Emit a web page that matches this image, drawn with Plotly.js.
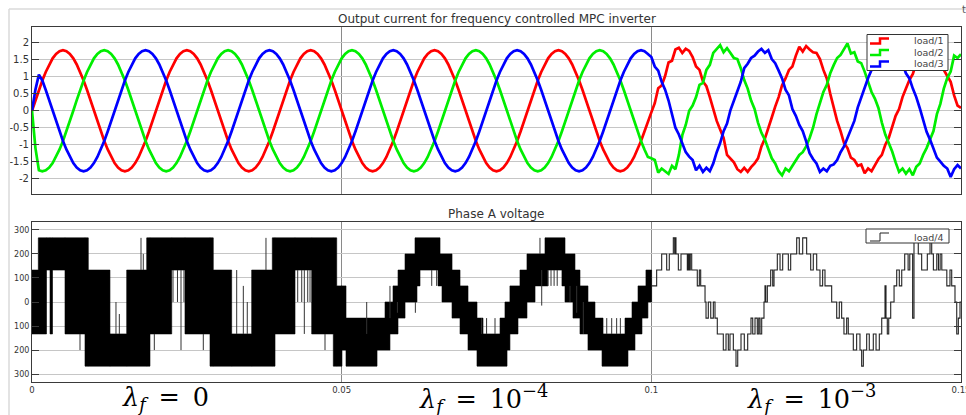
<!DOCTYPE html>
<html><head><meta charset="utf-8">
<script src="https://cdn.plot.ly/plotly-3.0.1.min.js"></script>
<style>html,body{margin:0;padding:0;background:#fff}#chart{width:966px;height:415px}</style>
</head><body><div id="chart"></div>
<script>
// ---------- DATA ----------
const currentStepSeconds = 1 / 1800;   // one sample every 10 electrical degrees at 50 Hz

const load1 = [
0,0.31,0.61,0.89,1.14,1.36,1.54,1.67,1.75,1.78,1.75,1.67,1.54,1.36,1.14,0.89,0.61,0.31,0,-0.31,-0.61,-0.89,-1.14,-1.36,-1.54,-1.67,-1.75,-1.78,-1.75,-1.67,-1.54,-1.36,-1.14,-0.89,-0.61,-0.31,
0,0.31,0.61,0.89,1.14,1.36,1.54,1.67,1.75,1.78,1.75,1.67,1.54,1.36,1.14,0.89,0.61,0.31,0,-0.31,-0.61,-0.89,-1.14,-1.36,-1.54,-1.67,-1.75,-1.78,-1.75,-1.67,-1.54,-1.36,-1.14,-0.89,-0.61,-0.31,
0,0.31,0.61,0.89,1.14,1.36,1.54,1.67,1.75,1.78,1.75,1.67,1.54,1.36,1.14,0.89,0.61,0.31,0,-0.31,-0.61,-0.89,-1.14,-1.36,-1.54,-1.67,-1.75,-1.78,-1.75,-1.67,-1.54,-1.36,-1.14,-0.89,-0.61,-0.31,
0,0.31,0.61,0.89,1.14,1.36,1.54,1.67,1.75,1.78,1.75,1.67,1.54,1.36,1.14,0.89,0.61,0.31,0,-0.31,-0.61,-0.89,-1.14,-1.36,-1.54,-1.67,-1.75,-1.78,-1.75,-1.67,-1.54,-1.36,-1.14,-0.89,-0.61,-0.31,
0,0.31,0.61,0.89,1.14,1.36,1.54,1.67,1.75,1.78,1.75,1.67,1.54,1.36,1.14,0.89,0.61,0.31,0,-0.31,-0.61,-0.89,-1.14,-1.36,-1.54,-1.67,-1.75,-1.78,-1.75,-1.67,-1.54,-1.36,-1.14,-0.89,-0.61,-0.31,
-0.05,0.22,0.66,0.74,1.02,1.42,1.47,1.80,1.85,1.70,
1.82,1.76,1.58,1.30,1.20,0.86,0.72,0.40,0.05,-0.30,
-0.55,-0.80,-1.30,-1.40,-1.52,-1.72,-1.80,-1.68,-1.80,-1.66,
-1.55,-1.40,-1.05,-0.82,-0.48,-0.20,0.12,0.40,0.75,0.95,
1.20,1.30,1.62,1.88,1.74,1.90,1.80,1.72,1.70,1.52,
1.20,0.95,0.50,0.10,-0.30,-0.60,-0.95,-1.10,-1.38,-1.45,
-1.62,-1.58,-1.84,-1.70,-1.78,-1.60,-1.42,-1.30,-1.00,-0.80,
-0.45,-0.15,0.05,0.40,0.65,0.90,1.08,1.40,1.58,1.80,
1.72,1.86,1.70,1.62,1.45,1.20,1.02,0.85,0.45,0.15,0.08
];

const load2 = [
0,-1.10,-1.75,-1.78,-1.75,-1.67,-1.54,-1.36,-1.14,-0.89,-0.61,-0.31,0,0.31,0.61,0.89,1.14,1.36,1.54,1.67,1.75,1.78,1.75,1.67,1.54,1.36,1.14,0.89,0.61,0.31,0,-0.31,-0.61,-0.89,-1.14,-1.36,
-1.54,-1.67,-1.75,-1.78,-1.75,-1.67,-1.54,-1.36,-1.14,-0.89,-0.61,-0.31,0,0.31,0.61,0.89,1.14,1.36,1.54,1.67,1.75,1.78,1.75,1.67,1.54,1.36,1.14,0.89,0.61,0.31,0,-0.31,-0.61,-0.89,-1.14,-1.36,
-1.54,-1.67,-1.75,-1.78,-1.75,-1.67,-1.54,-1.36,-1.14,-0.89,-0.61,-0.31,0,0.31,0.61,0.89,1.14,1.36,1.54,1.67,1.75,1.78,1.75,1.67,1.54,1.36,1.14,0.89,0.61,0.31,0,-0.31,-0.61,-0.89,-1.14,-1.36,
-1.54,-1.67,-1.75,-1.78,-1.75,-1.67,-1.54,-1.36,-1.14,-0.89,-0.61,-0.31,0,0.31,0.61,0.89,1.14,1.36,1.54,1.67,1.75,1.78,1.75,1.67,1.54,1.36,1.14,0.89,0.61,0.31,0,-0.31,-0.61,-0.89,-1.14,-1.36,
-1.54,-1.67,-1.75,-1.78,-1.75,-1.67,-1.54,-1.36,-1.14,-0.89,-0.61,-0.31,0,0.31,0.61,0.89,1.14,1.36,1.54,1.67,1.75,1.78,1.75,1.67,1.54,1.36,1.14,0.89,0.61,0.31,0,-0.31,-0.61,-0.89,-1.14,-1.36,
-1.40,-1.45,-1.82,-1.70,-1.78,-1.86,-1.62,-1.72,-1.30,-0.72,
-0.42,0.00,0.15,0.40,0.76,0.82,1.20,1.35,1.70,1.80,
1.93,1.72,1.84,1.70,1.55,1.52,1.25,0.90,0.65,0.30,
0.05,-0.35,-0.65,-0.85,-1.12,-1.40,-1.55,-1.78,-1.90,-1.70,
-1.78,-1.62,-1.45,-1.30,-1.22,-1.05,-0.80,-0.50,-0.10,0.26,
0.55,0.76,1.10,1.34,1.55,1.64,1.80,1.98,1.68,1.72,
1.45,1.40,1.15,0.85,0.55,0.35,0.08,-0.35,-0.70,-0.95,
-1.20,-1.52,-1.80,-1.70,-1.85,-1.72,-1.90,-1.65,-1.55,-1.30,
-1.10,-0.85,-0.60,-0.10,0.20,0.65,0.96,1.15,1.62,1.55,1.66
];

const load3 = [
0,0.62,1.06,0.89,0.61,0.31,0,-0.31,-0.61,-0.89,-1.14,-1.36,-1.54,-1.67,-1.75,-1.78,-1.75,-1.67,-1.54,-1.36,-1.14,-0.89,-0.61,-0.31,0,0.31,0.61,0.89,1.14,1.36,1.54,1.67,1.75,1.78,1.75,1.67,
1.54,1.36,1.14,0.89,0.61,0.31,0,-0.31,-0.61,-0.89,-1.14,-1.36,-1.54,-1.67,-1.75,-1.78,-1.75,-1.67,-1.54,-1.36,-1.14,-0.89,-0.61,-0.31,0,0.31,0.61,0.89,1.14,1.36,1.54,1.67,1.75,1.78,1.75,1.67,
1.54,1.36,1.14,0.89,0.61,0.31,0,-0.31,-0.61,-0.89,-1.14,-1.36,-1.54,-1.67,-1.75,-1.78,-1.75,-1.67,-1.54,-1.36,-1.14,-0.89,-0.61,-0.31,0,0.31,0.61,0.89,1.14,1.36,1.54,1.67,1.75,1.78,1.75,1.67,
1.54,1.36,1.14,0.89,0.61,0.31,0,-0.31,-0.61,-0.89,-1.14,-1.36,-1.54,-1.67,-1.75,-1.78,-1.75,-1.67,-1.54,-1.36,-1.14,-0.89,-0.61,-0.31,0,0.31,0.61,0.89,1.14,1.36,1.54,1.67,1.75,1.78,1.75,1.67,
1.54,1.36,1.14,0.89,0.61,0.31,0,-0.31,-0.61,-0.89,-1.14,-1.36,-1.54,-1.67,-1.75,-1.78,-1.75,-1.67,-1.54,-1.36,-1.14,-0.89,-0.61,-0.31,0,0.31,0.61,0.89,1.14,1.36,1.54,1.67,1.75,1.78,1.75,1.67,
1.58,1.30,1.18,0.85,0.62,0.30,-0.15,-0.50,-0.70,-0.95,
-1.22,-1.35,-1.45,-1.75,-1.62,-1.80,-1.68,-1.78,-1.55,-1.22,
-0.95,-0.60,-0.38,0.02,0.30,0.55,0.85,1.25,1.38,1.55,
1.62,1.74,1.82,1.70,1.78,1.52,1.40,1.18,0.95,0.62,
0.45,0.05,-0.15,-0.42,-0.60,-0.90,-1.25,-1.42,-1.55,-1.80,
-1.70,-1.78,-1.62,-1.58,-1.45,-1.22,-1.05,-0.80,-0.55,-0.30,
0.10,0.40,0.67,0.96,1.20,1.45,1.58,1.75,1.70,1.82,
1.72,1.65,1.52,1.38,1.10,0.95,0.65,0.40,0.08,-0.30,
-0.62,-0.85,-1.10,-1.38,-1.50,-1.62,-1.70,-1.95,-1.72,-1.60,-1.70
];

// Phase A voltage: densely switched bands [start ms, end ms, low V, high V]
const voltageBandsMs = [
[0,1.02,-133,133],[1.02,2.34,-133,267],[2.34,2.91,133,267],[2.91,3.31,-133,267],[3.31,5.33,133,267],
[5.33,8.56,-133,267],[8.56,9.09,-267,267],[9.09,12.59,-267,133],[12.59,15.29,-267,-133],[15.29,18.52,-267,133],
[18.52,19.05,-267,267],[19.05,22.56,-133,267],[22.56,24.70,133,267],[24.70,28.74,-133,267],[28.74,29.27,-267,267],
[29.27,32.24,-267,133],[32.24,35.47,-267,-133],[35.47,38.80,-267,133],[38.80,39.24,-267,267],[39.24,42.47,-133,267],
[42.47,45.16,133,267],[45.16,48.65,-133,267],[48.65,49.20,-267,267],[49.20,50.05,-267,67],
[50.0,50.70,-200,67],[50.70,55.71,-267,-67],[55.71,57.80,-200,-67],[57.00,59.10,-133,0],[58.29,60.23,-67,67],
[59.10,62.16,0,133],[60.23,62.65,67,200],[61.84,65.88,133,267],[65.56,67.82,67,200],[66.20,69.11,0,133],
[67.82,70.40,-67,67],[69.11,71.85,-133,0],[70.40,72.82,-200,-67],[71.85,76.70,-267,-133],[75.57,77.17,-200,-67],
[76.37,78.47,-133,0],[77.17,79.92,-67,67],[78.79,81.22,0,133],[79.92,83.32,67,200],[82.83,86.06,133,267],
[85.57,87.67,67,200],[86.06,88.48,0,133],[87.35,89.77,-67,67],[88.48,90.90,-133,0],[89.77,92.20,-200,-67],
[92.04,96.23,-267,-133],[95.75,97.36,-200,-67],[96.88,98.49,-133,0],[97.85,99.45,-67,67],[99.13,100.05,0,133]
];

// isolated switching spikes [time ms, low V, high V]
const voltageSpikesMs = [
[7.75,-200,-133],[13.56,-133,0],[14.10,-133,-50],[17.60,133,267],[17.97,133,200],[19.75,-200,-133],
[22.77,0,133],[23.49,0,133],[24.06,-200,133],[24.54,0,133],[27.66,-200,-133],[33.05,-133,133],
[34.12,-133,67],[34.76,-133,0],[37.78,133,267],[42.90,0,133],[43.55,0,133],[43.97,-133,133],
[44.52,0,133],[44.89,0,133],[47.31,-200,-133],
[54.04,-133,0],[57.80,-67,67],[59.0,-45,0],[61.9,-45,0],[64.54,67,133],[65.34,67,133],
[72.6,-133,-67],[73.4,-133,-67],[74.76,-133,-67],[82.02,200,267],[82.30,-15,133],
[83.3,67,133],[83.8,67,133],[84.3,67,133],[84.8,67,133],[86.87,0,67],[87.95,-45,67],[89.02,-133,0],
[92.8,-133,-67],[93.6,-133,-67],[94.4,-133,-67],[95.0,-133,-67]
];

// low switching-frequency staircase (lambda_f = 1e-3)
const stairTimeMs = [100.05,100.86,101.67,102.48,102.90,103.55,103.77,103.87,103.98,104.36,104.79,105.81,105.97,106.13,106.29,106.52,107.42,107.75,107.97,108.67,108.83,109.20,109.59,110.01,110.28,110.65,111.62,112.06,112.43,112.70,113.24,113.67,113.95,114.48,115.01,115.56,116.09,116.37,116.74,117.11,117.34,117.55,117.82,118.19,118.35,118.47,118.73,119.27,119.60,119.81,120.34,120.78,121.21,122.12,122.50,123.47,123.89,124.44,125.08,125.73,126.15,126.70,127.23,127.66,128.04,129.12,129.93,130.35,130.73,131.10,131.54,131.80,132.61,133.15,133.69,133.96,134.23,134.77,135.19,135.84,136.28,136.81,137.20,137.73,137.89,138.10,138.33,138.65,139.19,139.62,140.04,140.43,140.91,141.46,141.73,142.19,142.41,143.10,143.65,144.56,145.00,145.27,145.54,146.09,146.36,146.63,146.90,147.71,148.22,148.50,149.03,149.31,149.57,149.84,150];
const stairLevel = [67,133,200,133,200,267,200,267,200,133,200,133,200,133,200,133,67,133,67,0,-67,0,-67,0,-67,-133,-200,-133,-200,-133,-200,-267,-200,-133,-200,-133,-67,-133,-67,-133,-67,-133,-67,0,67,0,67,133,67,133,200,133,200,133,200,267,200,267,200,133,200,133,67,133,67,0,-67,0,-67,-133,-67,-133,-200,-133,-200,-267,-200,-133,-200,-133,-200,-133,-67,67,-67,-133,-67,0,67,133,67,133,200,133,200,-67,267,200,133,200,267,200,133,200,133,200,133,67,133,67,0,-133,-67,0,0];

const currentTicks = [-2,-1.5,-1,-0.5,0,0.5,1,1.5,2];
const currentTickText = ['-2','-1.5','-1','-0.5','0','0.5','1','1.5','2'];
const voltageTicks = [-300,-200,-100,0,100,200,300];
const voltageTickText = ['300','200','100','0','100','200','300'];
const timeTicks = [0,0.05,0.1,0.15];
const timeTickText = ['0','0.05','0.1','0.15'];
const seriesNames = ['load/1','load/2','load/3','load/4'];

// ---------- BUILD ----------
const tCur = load1.map((_, i) => i * currentStepSeconds);
const curColors = ['#ff0000','#00ee00','#0000ff'];
const traces = [load1, load2, load3].map((vals, i) => ({
  x: tCur, y: vals, type: 'scatter', mode: 'lines', name: seriesNames[i],
  xaxis: 'x', yaxis: 'y', showlegend: false,
  line: {color: curColors[i], width: 2.7}, hoverinfo: 'skip'
}));

const bx = [], by = [];
voltageBandsMs.forEach(([a, b, lo, hi]) => {
  bx.push(a/1000, b/1000, b/1000, a/1000, a/1000, null);
  by.push(lo, lo, hi, hi, lo, null);
});
traces.push({x: bx, y: by, type: 'scatter', mode: 'lines', fill: 'toself', fillcolor: '#000',
  line: {color: '#000', width: 0.6}, xaxis: 'x2', yaxis: 'y2', showlegend: false, hoverinfo: 'skip'});

const sx = [], sy = [];
voltageSpikesMs.forEach(([t, lo, hi]) => { sx.push(t/1000, t/1000, null); sy.push(lo, hi, null); });
traces.push({x: sx, y: sy, type: 'scatter', mode: 'lines', line: {color: '#333', width: 1},
  xaxis: 'x2', yaxis: 'y2', showlegend: false, hoverinfo: 'skip'});

traces.push({x: stairTimeMs.map(t => t/1000), y: stairLevel, type: 'scatter', mode: 'lines',
  name: seriesNames[3], line: {color: '#222', width: 1.1, shape: 'hv'},
  xaxis: 'x2', yaxis: 'y2', showlegend: false, hoverinfo: 'skip'});

// pixel -> paper helpers for decorations
const px = X => (X - 32) / 929;
const py = Y => (382 - Y) / 355;

const fontSans = 'DejaVu Sans, Liberation Sans, Arial, sans-serif';
const annotations = [
  {text: 'Output current for frequency controlled MPC inverter', x: 0.5, y: py(19), size: 12},
  {text: 'Phase A voltage', x: 0.5, y: py(214), size: 12}
].map(a => ({text: a.text, x: a.x, y: a.y, xref: 'paper', yref: 'paper', showarrow: false,
  xanchor: 'center', yanchor: 'middle', font: {family: fontSans, size: a.size, color: '#333'}}));

const lam = '<i>λ</i><sub><i>f</i></sub>\u2002=\u2002';
[[lam + '0', 165.5], [lam + '10<sup>−4</sup>', 483.5], [lam + '10<sup>−3</sup>', 811.5]].forEach(([txt, X]) => {
  annotations.push({text: txt, x: px(X), y: py(398), xref: 'paper', yref: 'paper', showarrow: false,
    xanchor: 'center', yanchor: 'middle', font: {family: 'DejaVu Serif, Liberation Serif, serif', size: 25.5, color: '#000'}});
});
annotations.push({text: 't', x: px(964), y: py(9), xref: 'paper', yref: 'paper', showarrow: false,
  xanchor: 'center', yanchor: 'middle', font: {family: fontSans, size: 10, color: '#555'}});

const shapes = [
  {type: 'line', xref: 'paper', yref: 'paper', x0: px(9), x1: px(9), y0: py(9), y1: py(420), line: {color: '#dadada', width: 1.5}},
  {type: 'line', xref: 'paper', yref: 'paper', x0: px(9), x1: px(970), y0: py(9), y1: py(9), line: {color: '#dadada', width: 1.5}}
];

// legends (drawn as decorations to match the scope's compact legend)
function legendBox(x0, x1, y0, y1) {
  shapes.push({type: 'rect', xref: 'paper', yref: 'paper', x0: px(x0), x1: px(x1), y0: py(y1), y1: py(y0),
    fillcolor: '#fff', line: {color: '#333', width: 1}});
}
function legendEntry(Yc, color, label, h) {
  const p = `M ${px(870)},${py(Yc + h)} L ${px(880)},${py(Yc + h)} L ${px(880)},${py(Yc - h)} L ${px(889)},${py(Yc - h)}`;
  shapes.push({type: 'path', xref: 'paper', yref: 'paper', path: p, line: {color: color, width: color === '#222' ? 1 : 2.5}});
  annotations.push({text: label, x: px(946), y: py(Yc), xref: 'paper', yref: 'paper', showarrow: false,
    xanchor: 'right', yanchor: 'middle', font: {family: fontSans, size: 9.5, color: '#444'}});
}
legendBox(867, 948, 34.5, 70.5);
legendEntry(41, curColors[0], seriesNames[0], 2.5);
legendEntry(52.5, curColors[1], seriesNames[1], 2.5);
legendEntry(64, curColors[2], seriesNames[2], 2.5);
legendBox(866, 949, 229, 243);
legendEntry(237, '#222', seriesNames[3], 4);

const yAxisCommon = {
  showgrid: true, gridcolor: '#c6c6c6', gridwidth: 1, zeroline: false,
  showline: true, linecolor: '#3a3a3a', linewidth: 1, mirror: 'ticks',
  ticks: 'inside', ticklen: 7, tickcolor: '#3a3a3a', tickmode: 'array', fixedrange: true
};
const xAxisCommon = {
  range: [0, 0.15], showgrid: true, gridcolor: '#8a8a8a', gridwidth: 1, zeroline: false,
  showline: true, linecolor: '#3a3a3a', linewidth: 1, mirror: true, ticks: '',
  tickmode: 'array', tickvals: timeTicks, fixedrange: true, ticklabeloverflow: 'allow'
};

const layout = {
  width: 966, height: 415,
  margin: {l: 32, r: 5, t: 27, b: 33, pad: 0},
  paper_bgcolor: '#fff', plot_bgcolor: '#fff',
  showlegend: false,
  xaxis: Object.assign({}, xAxisCommon, {domain: [0, 1], anchor: 'y', showticklabels: false}),
  yaxis: Object.assign({}, yAxisCommon, {domain: [py(193.5), 1], anchor: 'x', range: [-2.435, 2.462],
    tickvals: currentTicks, ticktext: currentTickText, tickfont: {family: fontSans, size: 10, color: '#333'}}),
  xaxis2: Object.assign({}, xAxisCommon, {domain: [0, 1], anchor: 'y2', ticktext: timeTickText,
    tickfont: {family: fontSans, size: 8.5, color: '#333'}}),
  yaxis2: Object.assign({}, yAxisCommon, {domain: [0, py(222)], anchor: 'x2', range: [-333, 333],
    tickvals: voltageTicks, ticktext: voltageTickText, tickfont: {family: fontSans, size: 8, color: '#333'}}),
  annotations: annotations,
  shapes: shapes
};

Plotly.newPlot('chart', traces, layout, {staticPlot: true, displayModeBar: false});
</script>
</body></html>
